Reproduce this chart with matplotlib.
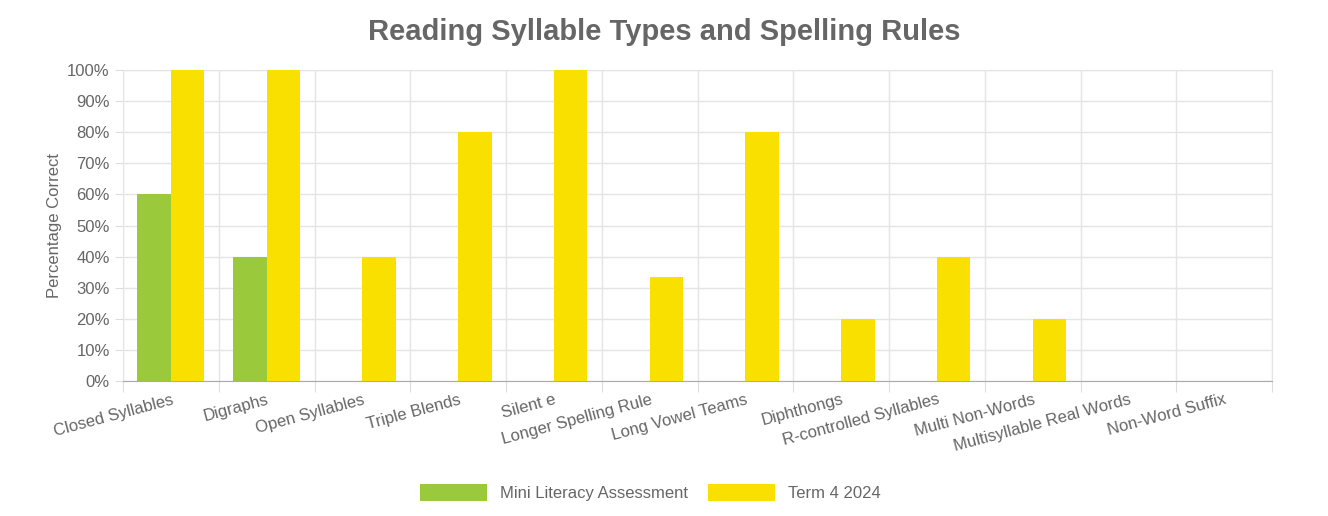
import matplotlib
matplotlib.use("Agg")
import matplotlib.pyplot as plt
import numpy as np

categories = ["Closed Syllables", "Digraphs", "Open Syllables", "Triple Blends", "Silent e",
              "Longer Spelling Rule", "Long Vowel Teams", "Diphthongs", "R-controlled Syllables",
              "Multi Non-Words", "Multisyllable Real Words", "Non-Word Suffix"]
mini = [60, 40, 0, 0, 0, 0, 0, 0, 0, 0, 0, 0]
term4 = [100, 100, 40, 80, 100, 33.3, 80, 20, 40, 20, 0, 0]
series_names = ["Mini Literacy Assessment", "Term 4 2024"]

plt.rcParams['font.family'] = ['Liberation Sans', 'DejaVu Sans']
fig = plt.figure(figsize=(13.28, 5.16), dpi=100)
ax = fig.add_axes([123/1328, 1-381/516, (1272-123)/1328, (381-70)/516])

n = len(categories)
x = np.arange(n)
w = 0.35
ax.bar(x - 0.2 + 0.025, mini, w, color="#9ACA3C", label=series_names[0], zorder=3)
ax.bar(x + 0.2 - 0.025 + 0.0, term4, w, color="#F9E000", label=series_names[1], zorder=3)

ax.set_xlim(-0.5, n - 0.5)
ax.set_ylim(0, 100)
ax.set_yticks(range(0, 101, 10))
ax.set_yticklabels([f"{v}%" for v in range(0, 101, 10)], fontsize=12, color="#666666")
ax.set_xticks(np.arange(-0.5, n, 1), minor=False)
ax.set_xticklabels([])
ax.set_xticks(x, minor=True)
ax.set_xticklabels(categories, minor=True, rotation=15, ha="right", rotation_mode="anchor",
                   fontsize=12, color="#666666")
ax.tick_params(axis="x", which="minor", length=0, pad=8)
ax.tick_params(axis="x", which="major", length=8, color="#dddddd")
ax.tick_params(axis="y", length=6, color="#dddddd")
ax.grid(True, which="major", color="#e5e5e5", linewidth=1, zorder=0)
for s in ["top", "right", "left"]:
    ax.spines[s].set_color("#e5e5e5")
ax.spines["bottom"].set_color("#aaaaaa")
ax.set_ylabel("Percentage Correct", fontsize=12, color="#666666")
fig.suptitle("Reading Syllable Types and Spelling Rules", fontsize=21, fontweight="bold",
             color="#666666", y=0.965)
fig.legend(loc="lower center", ncol=2, frameon=False, fontsize=12, handlelength=4,
           handleheight=1.2, bbox_to_anchor=(0.49, 0.0), labelcolor="#666666", columnspacing=1.2)
fig.savefig("out.png", dpi=100)
